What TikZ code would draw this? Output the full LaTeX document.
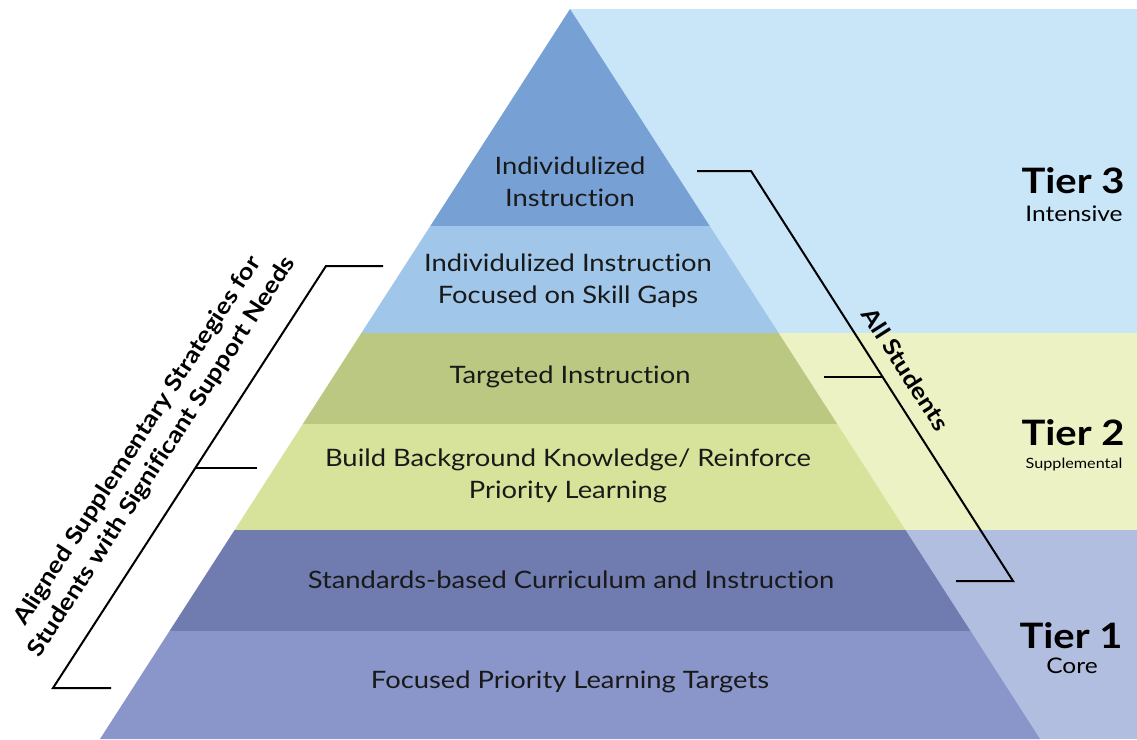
\documentclass[tikz,border=0pt]{standalone}
\usepackage{fontspec}
\setmainfont[FakeStretch=1.14,Ligatures={NoCommon,NoRare}]{Lato}
\definecolor{bandA}{RGB}{119,161,213}
\definecolor{bandB}{RGB}{160,198,234}
\definecolor{bandC}{RGB}{186,200,130}
\definecolor{bandD}{RGB}{215,227,154}
\definecolor{bandE}{RGB}{112,123,176}
\definecolor{bandF}{RGB}{138,150,202}
\definecolor{bgThree}{RGB}{201,229,248}
\definecolor{bgTwo}{RGB}{236,242,196}
\definecolor{bgOne}{RGB}{178,190,224}
\tikzset{
  lvl/.style={align=center, font=\fontsize{24}{32}\selectfont, text=black!90, inner sep=0pt},
  tiername/.style={font=\fontsize{35}{40}\selectfont\bfseries, inner sep=0pt},
  tiersub/.style={font=\fontsize{21.5}{24}\selectfont, inner sep=0pt},
  bracket/.style={draw=black, line width=2pt},
  bracktext/.style={font=\fontsize{23}{29}\selectfont\bfseries, align=center, inner sep=0pt}
}
\begin{document}
\begin{tikzpicture}[x=1pt,y=-1pt]
\useasboundingbox (0,0) rectangle (1137,739);
% background tier bands
\fill[bgThree] (570,9) rectangle (1137,333);
\fill[bgTwo] (570,333) rectangle (1137,530);
\fill[bgOne] (570,530) rectangle (1137,739);
% pyramid levels: edge x = 570 -/+ 0.6438*(y-9)
\fill[bandA] (570,9) -- (430.3,226) -- (709.7,226) -- cycle;
\fill[bandB] (430.3,226) -- (361.4,333) -- (778.6,333) -- (709.7,226) -- cycle;
\fill[bandC] (361.4,333) -- (302.8,424) -- (837.2,424) -- (778.6,333) -- cycle;
\fill[bandD] (302.8,424) -- (234.6,530) -- (905.4,530) -- (837.2,424) -- cycle;
\fill[bandE] (234.6,530) -- (169.5,631) -- (970.5,631) -- (905.4,530) -- cycle;
\fill[bandF] (169.5,631) -- (100,739) -- (1040,739) -- (970.5,631) -- cycle;
% level texts
\node[lvl] (l1) at (570,182) {Individulized\\Instruction};
\node[lvl] (l2) at (568,281) {Individulized Instruction\\Focused on Skill Gaps};
\node[lvl] (l3) at (570,377) {Targeted Instruction};
\node[lvl] (l4) at (568,476) {Build Background Knowledge/ Reinforce\\Priority Learning};
\node[lvl] (l5) at (571,580) {Standards-based Curriculum and Instruction};
\node[lvl] (l6) at (570,682) {Focused Priority Learning Targets};
% tier labels
\node[tiername] (t3) at (1073,181) {Tier 3};
\node[tiersub] (t3s) at (1074,214) {Intensive};
\node[tiername] (t2) at (1073,433) {Tier 2};
\node[tiersub, font=\fontsize{14.2}{16}\selectfont] (t2s) at (1074,464) {Supplemental};
\node[tiername] (t1) at (1071,636) {Tier 1};
\node[tiersub] (t1s) at (1072,666) {Core};
% All Students bracket
\coordinate (as1) at (697,171);
\coordinate (as2) at (751,171);
\coordinate (as3) at (1013,581);
\coordinate (as4) at (956,581);
\coordinate (asm) at (824,377);
\coordinate (asmd) at (882.5,377);
\draw[bracket] (as1) -- (as2) -- (as3) -- (as4);
\draw[bracket] (asm) -- (asmd);
\node[bracktext, rotate=-57.4] (allst) at (906,369) {All Students};
% left bracket
\coordinate (lb1) at (383,266);
\coordinate (lb2) at (326,266);
\coordinate (lb3) at (53,688);
\coordinate (lb4) at (111,688);
\coordinate (lbm) at (257,468);
\coordinate (lbmd) at (195.3,468);
\draw[bracket] (lb1) -- (lb2) -- (lb3) -- (lb4);
\draw[bracket] (lbm) -- (lbmd);
\node[bracktext, rotate=57.1] (supp) at (150,449) {Aligned Supplementary Strategies for\\Students with Significant Support Needs};
\end{tikzpicture}
\end{document}
